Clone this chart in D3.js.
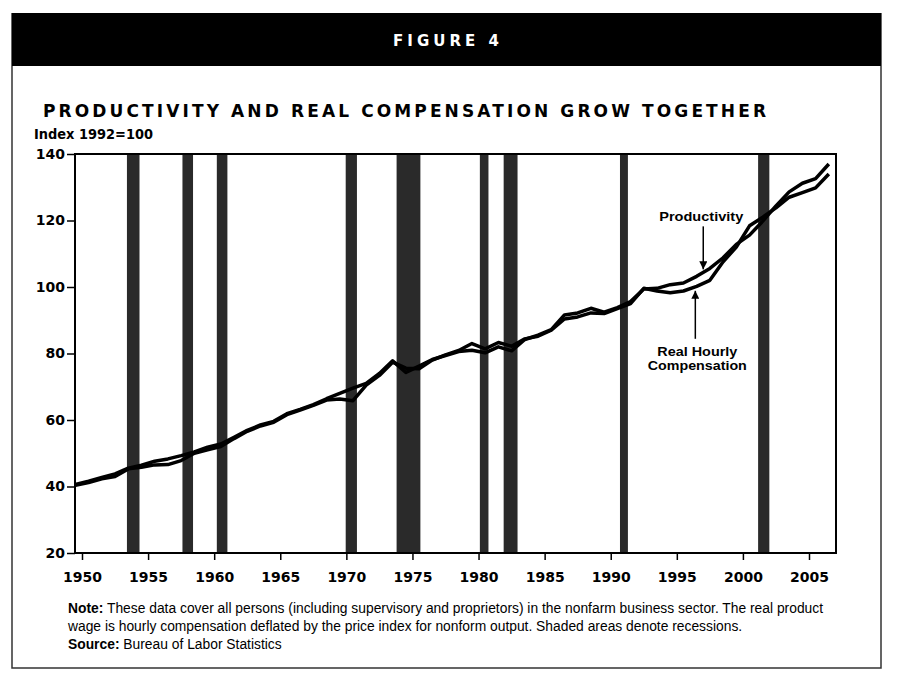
<!DOCTYPE html>
<html>
<head>
<meta charset="utf-8">
<script src="https://cdn.jsdelivr.net/npm/d3@7"></script>
<style>
  body { margin: 0; background: #fff; }
  svg { display: block; }
</style>
</head>
<body>
<script>
// annual values, plotted at mid-year
const years = d3.range(1949, 2007);
const productivity = [
  40.6, 41.6, 42.7, 43.8, 45.5, 46.4, 47.6, 48.3, 49.3, 50.4,
  51.8, 52.8, 54.8, 56.9, 58.5, 59.6, 61.9, 63.2, 64.6, 66.4,
  68.0, 69.6, 71.0, 74.0, 77.8, 74.3, 76.2, 78.2, 79.4, 80.6,
  81.0, 80.2, 82.0, 80.8, 84.2, 85.5, 87.2, 91.6, 92.2, 93.6,
  92.4, 93.8, 95.6, 99.4, 99.6, 100.7, 101.2, 103.2, 105.6, 108.8,
  112.8, 115.6, 119.8, 124.4, 128.6, 131.2, 132.6, 137.0
];
const compensation = [
  40.4, 41.2, 42.3, 43.0, 45.3, 45.8, 46.5, 46.6, 47.8, 50.0,
  51.0, 52.0, 54.4, 56.6, 58.2, 59.3, 61.6, 63.0, 64.4, 66.0,
  66.3, 65.8, 70.5, 73.4, 77.4, 75.6, 75.4, 78.0, 79.6, 80.9,
  83.0, 81.4, 83.3, 82.2, 84.4, 85.2, 87.0, 90.4, 91.0, 92.2,
  92.0, 93.5, 95.0, 99.6, 98.8, 98.3, 98.8, 100.2, 102.0, 107.6,
  112.0, 118.4, 121.0, 123.8, 127.0, 128.4, 129.8, 134.0
];
// recession start / end (fractional years)
const recessionStart = [1953.4, 1957.6, 1960.2, 1969.95, 1973.8, 1980.1, 1981.9, 1990.7, 2001.15];
const recessionEnd   = [1954.35, 1958.4, 1961.0, 1970.8, 1975.6, 1980.75, 1982.95, 1991.3, 2002.0];
const xTicks = d3.range(1950, 2006, 5);
const yTicks = [20, 40, 60, 80, 100, 120, 140];

const W = 902, H = 692;
const svg = d3.select("body").append("svg")
  .attr("width", W)
  .attr("height", H);

// frame + header bar
svg.append("path")
   .attr("d", "M12,13 V668 H881 V13")
   .attr("fill", "none")
   .attr("stroke", "#333")
   .attr("stroke-width", 1.5);

svg.append("rect")
   .attr("x", 12).attr("y", 13)
   .attr("width", 869).attr("height", 53)
   .attr("fill", "#000");

svg.append("text")
   .attr("x", 446).attr("y", 46)
   .attr("text-anchor", "middle")
   .attr("fill", "#fff")
   .attr("font-family", "'DejaVu Sans', sans-serif")
   .attr("font-weight", "bold")
   .attr("font-size", 15)
   .attr("textLength", 106)
   .attr("lengthAdjust", "spacing")
   .text("FIGURE 4");

svg.append("text")
   .attr("x", 43).attr("y", 117)
   .attr("font-family", "'DejaVu Sans', sans-serif")
   .attr("font-weight", "bold")
   .attr("font-size", 17)
   .attr("textLength", 723)
   .attr("lengthAdjust", "spacing")
   .text("PRODUCTIVITY AND REAL COMPENSATION GROW TOGETHER");

svg.append("text")
   .attr("x", 34).attr("y", 139)
   .attr("font-family", "'DejaVu Sans', sans-serif")
   .attr("font-weight", "bold")
   .attr("font-size", 13.5)
   .attr("textLength", 119)
   .attr("lengthAdjust", "spacingAndGlyphs")
   .text("Index 1992=100");

// scales
const x = d3.scaleLinear().domain([1950, 2005]).range([82, 809]);
const y = d3.scaleLinear().domain([20, 140]).range([553, 154]);
const plotL = 75, plotR = 836, plotT = 154, plotB = 553;

svg.append("clipPath").attr("id", "plotclip")
   .append("rect")
   .attr("x", plotL).attr("y", plotT)
   .attr("width", plotR - plotL).attr("height", plotB - plotT);

const plot = svg.append("g").attr("clip-path", "url(#plotclip)");

// recession bands
plot.selectAll("rect.rec")
    .data(recessionStart)
    .enter()
    .append("rect")
    .attr("class", "rec")
    .attr("x", d => x(d))
    .attr("y", plotT)
    .attr("width", (d, i) => x(recessionEnd[i]) - x(d))
    .attr("height", plotB - plotT)
    .attr("fill", "#2a2a2a");

const line = d3.line()
  .x((d, i) => x(years[i] + 0.5))
  .y(d => y(d));

plot.append("path")
    .datum(compensation)
    .attr("d", line)
    .attr("fill", "none")
    .attr("stroke", "#000")
    .attr("stroke-width", 3.5)
    .attr("stroke-linejoin", "round");

plot.append("path")
    .datum(productivity)
    .attr("d", line)
    .attr("fill", "none")
    .attr("stroke", "#000")
    .attr("stroke-width", 3.5)
    .attr("stroke-linejoin", "round");

// plot border
svg.append("rect")
   .attr("x", plotL).attr("y", plotT)
   .attr("width", plotR - plotL).attr("height", plotB - plotT)
   .attr("fill", "none")
   .attr("stroke", "#000")
   .attr("stroke-width", 2);

// axes
const xAxis = svg.append("g")
   .attr("transform", `translate(0,${plotB})`)
   .call(d3.axisBottom(x).tickValues(xTicks).tickFormat(d3.format("d")).tickSize(7).tickPadding(9));

const yAxis = svg.append("g")
   .attr("transform", `translate(${plotL},0)`)
   .call(d3.axisLeft(y).tickValues(yTicks).tickSize(8).tickPadding(2));

[xAxis, yAxis].forEach(a => {
  a.select(".domain").remove();
  a.selectAll("line").attr("stroke", "#000").attr("stroke-width", 1.5);
  a.selectAll("text")
   .attr("font-family", "'DejaVu Sans', sans-serif")
   .attr("font-weight", "bold")
   .attr("font-size", 14)
   .attr("fill", "#000");
});
xAxis.selectAll("text").attr("dy", "0.9em");

// annotations
function valueAt(series, yr) {
  const t = yr - 0.5 - years[0];
  const i = Math.floor(t), f = t - i;
  return series[i] * (1 - f) + series[i + 1] * f;
}
svg.append("defs").append("marker")
   .attr("id", "arrow")
   .attr("viewBox", "0 0 10 10")
   .attr("refX", 10).attr("refY", 5)
   .attr("markerWidth", 8).attr("markerHeight", 8)
   .attr("markerUnits", "userSpaceOnUse")
   .attr("orient", "auto")
   .append("path")
   .attr("d", "M0,0 L10,5 L0,10 z")
   .attr("fill", "#000");

const annoFont = "'Liberation Sans', Arial, sans-serif";
const pX = x(1997.0), pY = y(valueAt(productivity, 1997.0)) - 3;
svg.append("line")
   .attr("x1", pX).attr("y1", pY - 43)
   .attr("x2", pX).attr("y2", pY)
   .attr("stroke", "#000").attr("stroke-width", 1.5)
   .attr("marker-end", "url(#arrow)");
svg.append("text")
   .attr("x", pX - 2).attr("y", pY - 48)
   .attr("text-anchor", "middle")
   .attr("font-family", annoFont).attr("font-weight", "bold").attr("font-size", 13)
   .attr("textLength", 84).attr("lengthAdjust", "spacingAndGlyphs")
   .text("Productivity");

const cX = x(1996.4), cY = y(valueAt(compensation, 1996.4)) + 4;
svg.append("line")
   .attr("x1", cX).attr("y1", cY + 48)
   .attr("x2", cX).attr("y2", cY)
   .attr("stroke", "#000").attr("stroke-width", 1.5)
   .attr("marker-end", "url(#arrow)");
svg.append("text")
   .attr("x", cX + 2).attr("y", cY + 65)
   .attr("text-anchor", "middle")
   .attr("font-family", annoFont).attr("font-weight", "bold").attr("font-size", 13)
   .attr("textLength", 80).attr("lengthAdjust", "spacingAndGlyphs")
   .text("Real Hourly");
svg.append("text")
   .attr("x", cX + 2).attr("y", cY + 79)
   .attr("text-anchor", "middle")
   .attr("font-family", annoFont).attr("font-weight", "bold").attr("font-size", 13)
   .attr("textLength", 99).attr("lengthAdjust", "spacingAndGlyphs")
   .text("Compensation");

// notes
const noteLines = [
  ["Note:", " These data cover all persons (including supervisory and proprietors) in the nonfarm business sector. The real product"],
  ["", "wage is hourly compensation deflated by the price index for nonform output. Shaded areas denote recessions."],
  ["Source:", " Bureau of Labor Statistics"]
];
const notes = svg.append("g")
  .attr("font-family", "'Liberation Sans Narrow', 'Liberation Sans', Arial, sans-serif")
  .attr("font-size", 12);
const noteTexts = noteLines.map((l, i) => {
  const t = notes.append("text").attr("x", 68).attr("y", 613 + i * 18);
  if (l[0]) t.append("tspan").attr("font-weight", "bold").text(l[0]);
  t.append("tspan").text(l[1]);
  return t;
});
// fit the first line to its width in the picture
const w0 = noteTexts[0].node().getComputedTextLength();
notes.attr("font-size", 12 * 756 / w0);
</script>
</body>
</html>
